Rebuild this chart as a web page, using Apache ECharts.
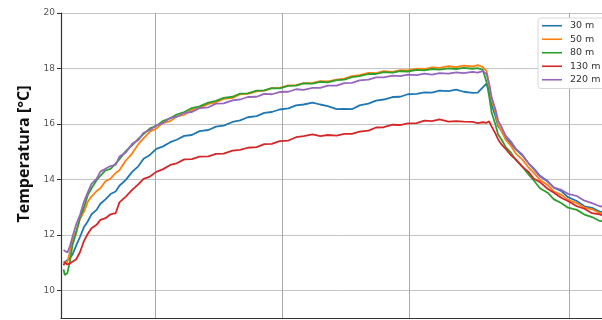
<!DOCTYPE html>
<html>
<head>
<meta charset="utf-8">
<script src="https://cdn.jsdelivr.net/npm/echarts@6/dist/echarts.min.js"></script>
<style>
  html, body { margin: 0; padding: 0; background: #fff; overflow: hidden; }
  /* plot continues past the right edge of the 602px picture */
  #chart { width: 620px; height: 320px; }
</style>
</head>
<body>
<div id="chart"></div>
<script>
// time axis (days)
var t = [0.02,0.03,0.05,0.07,0.09,0.12,0.15,0.18,0.21,0.24,
  0.28,0.31,0.35,0.39,0.43,0.46,0.51,0.56,0.61,0.65,
  0.70,0.75,0.80,0.86,0.91,0.97,1.03,1.09,1.16,1.22,
  1.28,1.35,1.41,1.47,1.54,1.60,1.66,1.72,1.79,1.85,
  1.91,1.98,2.04,2.10,2.17,2.23,2.29,2.35,2.42,2.48,
  2.54,2.61,2.67,2.73,2.80,2.86,2.92,2.98,3.05,3.11,
  3.17,3.24,3.28,3.32,3.35,3.37,3.39,3.42,3.44,3.47,
  3.50,3.54,3.58,3.63,3.68,3.72,3.77,3.83,3.88,3.94,
  3.99,4.06,4.12,4.18,4.24,4.31];

var s30 = [11.00,11.05,11.08,11.17,11.28,11.62,11.93,12.27,12.48,12.74,
  12.90,13.12,13.28,13.47,13.56,13.77,13.98,14.27,14.48,14.74,
  14.88,15.10,15.18,15.34,15.43,15.57,15.60,15.74,15.78,15.90,
  15.94,16.07,16.13,16.24,16.28,16.40,16.43,16.52,16.56,16.67,
  16.70,16.77,16.70,16.64,16.53,16.54,16.53,16.67,16.73,16.84,
  16.88,16.97,16.98,17.07,17.08,17.14,17.13,17.20,17.18,17.24,
  17.16,17.12,17.13,17.32,17.45,17.20,16.70,16.27,15.93,15.74,
  15.48,15.30,15.08,14.87,14.58,14.40,14.13,13.94,13.70,13.57,
  13.36,13.22,13.03,12.97,12.84,12.80];

var s50 = [11.00,10.95,11.02,11.38,11.82,12.13,12.58,12.83,13.18,13.38,
  13.58,13.68,13.93,14.03,14.23,14.33,14.68,14.93,15.28,15.48,
  15.72,15.83,16.03,16.10,16.27,16.33,16.50,16.58,16.72,16.78,
  16.90,16.94,17.07,17.08,17.17,17.20,17.29,17.30,17.39,17.40,
  17.47,17.48,17.54,17.53,17.60,17.63,17.72,17.76,17.84,17.83,
  17.90,17.88,17.94,17.93,17.99,17.98,18.04,18.02,18.08,18.05,
  18.10,18.07,18.12,18.05,17.90,17.40,16.85,16.42,15.98,15.72,
  15.43,15.22,14.93,14.72,14.43,14.24,13.98,13.80,13.56,13.44,
  13.26,13.14,12.98,12.92,12.78,12.74];

var s80 = [10.75,10.55,10.62,11.03,11.62,12.08,12.62,12.98,13.42,13.68,
  13.97,14.13,14.32,14.38,14.57,14.73,15.02,15.23,15.47,15.63,
  15.84,15.93,16.10,16.20,16.34,16.43,16.57,16.63,16.77,16.83,
  16.94,16.98,17.09,17.10,17.20,17.21,17.29,17.28,17.37,17.38,
  17.46,17.45,17.52,17.50,17.58,17.60,17.69,17.72,17.80,17.80,
  17.87,17.85,17.90,17.89,17.95,17.93,17.98,17.96,18.00,17.98,
  18.02,17.99,18.01,17.95,17.50,17.00,16.40,15.97,15.63,15.42,
  15.16,14.97,14.70,14.47,14.18,13.97,13.68,13.52,13.28,13.14,
  12.98,12.90,12.73,12.64,12.50,12.46];

var s130 = [10.90,11.00,10.93,10.97,11.03,11.12,11.38,11.77,12.03,12.24,
  12.36,12.54,12.60,12.74,12.78,13.17,13.38,13.62,13.83,14.02,
  14.10,14.27,14.36,14.52,14.58,14.72,14.73,14.82,14.83,14.92,
  14.93,15.04,15.06,15.14,15.16,15.27,15.28,15.38,15.40,15.52,
  15.56,15.62,15.56,15.60,15.58,15.64,15.64,15.72,15.76,15.87,
  15.88,15.97,15.96,16.02,16.03,16.12,16.10,16.16,16.08,16.10,
  16.08,16.07,16.03,16.06,16.04,16.09,15.90,15.65,15.45,15.24,
  15.10,14.88,14.72,14.46,14.27,14.03,13.90,13.66,13.52,13.33,
  13.22,13.03,12.94,12.78,12.74,12.63];

var s220 = [11.45,11.40,11.36,11.58,11.92,12.38,12.72,13.18,13.52,13.84,
  14.02,14.28,14.38,14.48,14.52,14.82,14.97,15.28,15.42,15.68,
  15.78,15.95,16.02,16.22,16.25,16.40,16.43,16.57,16.60,16.73,
  16.74,16.85,16.88,16.97,16.98,17.08,17.07,17.15,17.16,17.25,
  17.23,17.30,17.30,17.38,17.38,17.47,17.48,17.57,17.60,17.68,
  17.68,17.74,17.72,17.78,17.76,17.81,17.78,17.83,17.81,17.86,
  17.83,17.88,17.85,17.90,17.80,17.45,16.95,16.52,16.13,15.87,
  15.58,15.37,15.10,14.90,14.58,14.37,14.10,13.92,13.70,13.62,
  13.48,13.40,13.23,13.14,13.03,13.00];

var names = ['30 m', '50 m', '80 m', '130 m', '220 m'];
var colors = ['#1f77b4', '#ff7f0e', '#2ca02c', '#d62728', '#9467bd'];
var yTicks = [10, 12, 14, 16, 18, 20];
var xTicks = [0.74, 1.74, 2.74, 4.0];

var chart = echarts.init(document.getElementById('chart'));

function pairs(vals) {
  return t.map(function (x, i) { return [x, vals[i]]; });
}

var allSeries = [s30, s50, s80, s130, s220].map(function (vals, i) {
  return {
    name: names[i],
    type: 'line',
    data: pairs(vals),
    showSymbol: false,
    symbol: 'none',
    lineStyle: { width: 1.8, color: colors[i] },
    itemStyle: { color: colors[i] }
  };
});

chart.setOption({
  animation: false,
  backgroundColor: '#fff',
  grid: { left: 61, top: 13, right: 0, bottom: 2 },
  xAxis: {
    type: 'value',
    min: 0,
    max: 4.4,
    axisLine: { show: true, lineStyle: { color: '#333', width: 1.2 } },
    axisTick: { show: false, customValues: xTicks },
    axisLabel: { show: false, customValues: xTicks },
    splitLine: { show: true, lineStyle: { color: '#a8a8a8', width: 1 } }
  },
  yAxis: {
    type: 'value',
    min: 9,
    max: 20,
    axisLine: { show: true, lineStyle: { color: '#333', width: 1.2 } },
    axisTick: { show: true, length: 4, customValues: yTicks, lineStyle: { color: '#333' } },
    axisLabel: {
      customValues: yTicks,
      color: '#555',
      fontSize: 9,
      fontFamily: 'DejaVu Sans',
      margin: 6
    },
    splitLine: { show: true, lineStyle: { color: '#c4c4c4', width: 1 } }
  },
  legend: {
    orient: 'vertical',
    left: 538,
    top: 18,
    data: names,
    icon: 'rect',
    itemWidth: 20,
    itemHeight: 1.6,
    itemGap: 0,
    padding: [1, 30, 2, 4],
    backgroundColor: '#fff',
    borderColor: '#d8d8d8',
    borderWidth: 1,
    borderRadius: 3,
    textStyle: { color: '#333', fontSize: 9.5, fontFamily: 'DejaVu Sans', lineHeight: 13.5, padding: [0, 0, 0, 3] }
  },
  graphic: [{
    type: 'text',
    x: 24,
    y: 154,
    rotation: Math.PI / 2,
    style: {
      text: 'Temperatura [°C]',
      fill: '#111',
      font: 'bold 16px "Open Sans"',
      align: 'center',
      verticalAlign: 'middle'
    }
  }],
  series: allSeries
});
</script>
</body>
</html>
